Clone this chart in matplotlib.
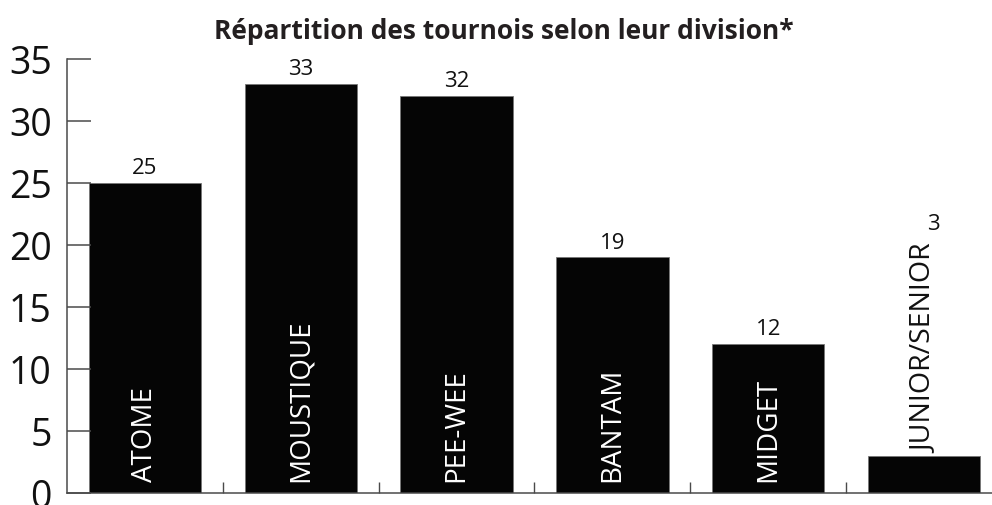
import matplotlib
matplotlib.use('Agg')
import matplotlib.pyplot as plt
import numpy as np

# Données du graphique
divisions = ['ATOME', 'MOUSTIQUE', 'PEE-WEE', 'BANTAM', 'MIDGET', 'JUNIOR/SENIOR']
tournois = [25, 33, 32, 19, 12, 3]
yticks = [0, 5, 10, 15, 20, 25, 30, 35]
titre = 'Répartition des tournois selon leur division*'

plt.rcParams['font.family'] = ['Open Sans', 'DejaVu Sans']

fig = plt.figure(figsize=(9.92, 5.05), dpi=100)
ax = fig.add_axes([67 / 992, 12 / 505, 1 - 67 / 992, (493 - 59) / 505])

x = np.arange(len(divisions))
ax.bar(x, tournois, width=0.72, color='#050505', edgecolor='#777777', linewidth=0.6)

ax.set_xlim(-0.5, 5.5 - 10 / 156)
ax.set_ylim(0, 35)
ax.set_yticks(yticks)
ax.set_xticks(x[:-1] + 0.5)
ax.set_xticklabels([])

for side in ['top', 'right']:
    ax.spines[side].set_visible(False)
for side in ['left', 'bottom']:
    ax.spines[side].set_color('#4a4a4a')
    ax.spines[side].set_linewidth(1.1)

ax.tick_params(axis='y', direction='in', length=17, width=1.1, color='#4a4a4a',
               labelsize=27, pad=11, labelcolor='#111111')
ax.tick_params(axis='x', direction='in', length=8, width=1.0, color='#4a4a4a')

# Étiquettes des valeurs et des divisions
for i, (nom, val) in enumerate(zip(divisions, tournois)):
    if nom == 'JUNIOR/SENIOR':
        ax.text(i, val + 0.2, nom, rotation=90, ha='center', va='bottom',
                fontsize=20.5, color='#111111')
        ax.text(i + 0.06, val + 17.8, str(val), ha='center', va='bottom',
                fontsize=16, color='#111111')
    else:
        ax.text(i, val + 0.3, str(val), ha='center', va='bottom',
                fontsize=16, color='#111111')
        ax.text(i, 0.9, nom, rotation=90, ha='center', va='bottom',
                fontsize=20, color='white')

fig.text(0.508, 0.937, titre, ha='center', va='center', fontsize=19,
         fontweight='bold', color='#231f20')

fig.savefig('out.png', dpi=100)
